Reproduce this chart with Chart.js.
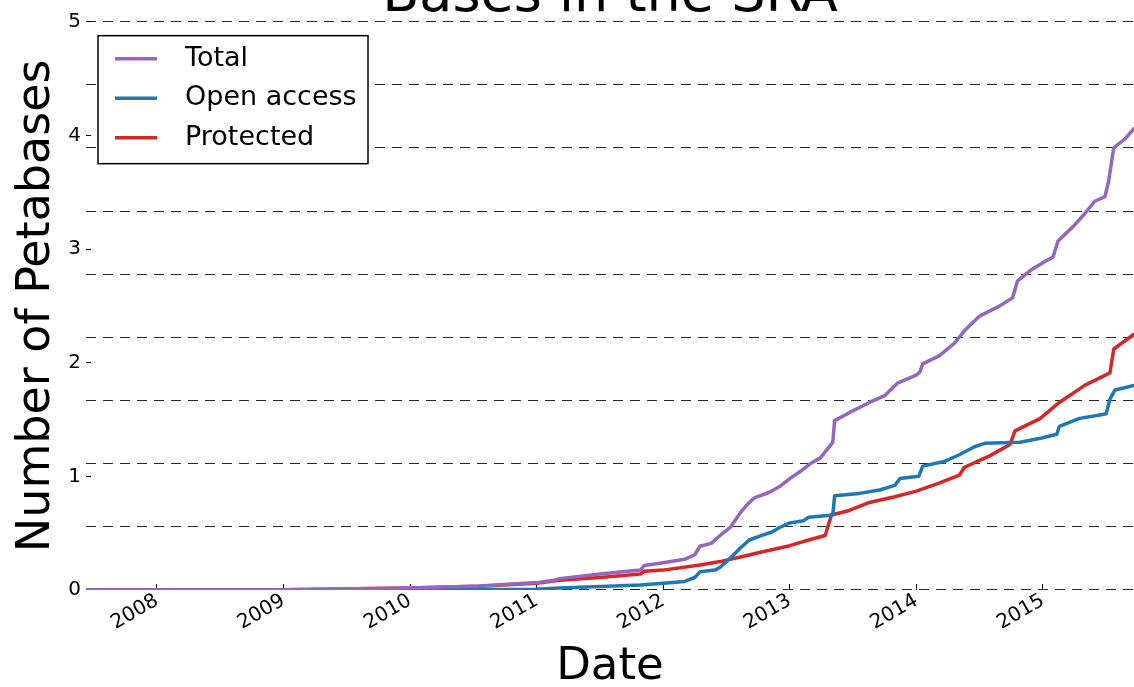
<!DOCTYPE html>
<html>
<head>
<meta charset="utf-8">
<script src="https://cdn.jsdelivr.net/npm/chart.js@4"></script>
<style>
  html, body { margin: 0; padding: 0; background: #fff; overflow: hidden; }
  #wrap { position: absolute; left: 0; top: -28px; width: 1134px; height: 715px; }
</style>
</head>
<body>
<div id="wrap"><canvas id="sra"></canvas></div>
<script>
// datos (petabases por fecha, en anos decimales)
const totalYears = [2007.44, 2009.0, 2010.0, 2010.55, 2011.0, 2011.14, 2011.18, 2011.5, 2011.82, 2011.85, 2012.0, 2012.17, 2012.25, 2012.29, 2012.38, 2012.45, 2012.53, 2012.61, 2012.68, 2012.72, 2012.84, 2012.92, 2013.0, 2013.08, 2013.16, 2013.24, 2013.32, 2013.34, 2013.355, 2013.47, 2013.63, 2013.75, 2013.85, 2014.0, 2014.03, 2014.05, 2014.18, 2014.30, 2014.38, 2014.50, 2014.66, 2014.76, 2014.80, 2014.90, 2015.0, 2015.08, 2015.12, 2015.25, 2015.33, 2015.41, 2015.49, 2015.52, 2015.56, 2015.65, 2015.72];
const totalValues = [0, 0.003, 0.018, 0.035, 0.065, 0.085, 0.10, 0.14, 0.175, 0.215, 0.24, 0.27, 0.31, 0.385, 0.41, 0.48, 0.55, 0.68, 0.77, 0.81, 0.86, 0.91, 0.98, 1.04, 1.11, 1.16, 1.27, 1.30, 1.49, 1.56, 1.65, 1.71, 1.82, 1.89, 1.92, 1.99, 2.06, 2.17, 2.28, 2.41, 2.50, 2.57, 2.72, 2.81, 2.88, 2.93, 3.07, 3.21, 3.31, 3.42, 3.46, 3.60, 3.89, 3.97, 4.06];

const openYears = [2007.44, 2010.0, 2011.0, 2011.18, 2011.82, 2012.0, 2012.17, 2012.25, 2012.29, 2012.41, 2012.45, 2012.53, 2012.61, 2012.68, 2012.78, 2012.86, 2012.92, 2013.0, 2013.11, 2013.15, 2013.34, 2013.355, 2013.55, 2013.71, 2013.83, 2013.87, 2014.02, 2014.05, 2014.22, 2014.34, 2014.46, 2014.54, 2014.82, 2015.0, 2015.11, 2015.13, 2015.29, 2015.45, 2015.50, 2015.53, 2015.57, 2015.72];
const openValues = [0, 0.002, 0.006, 0.018, 0.045, 0.06, 0.075, 0.11, 0.16, 0.175, 0.20, 0.28, 0.37, 0.44, 0.48, 0.51, 0.55, 0.59, 0.61, 0.64, 0.66, 0.83, 0.85, 0.88, 0.92, 0.98, 1.00, 1.09, 1.13, 1.19, 1.26, 1.29, 1.30, 1.34, 1.37, 1.44, 1.51, 1.54, 1.55, 1.68, 1.76, 1.80];

const protectedYears = [2007.44, 2009.0, 2010.0, 2010.55, 2011.0, 2011.18, 2011.5, 2011.82, 2011.85, 2012.0, 2012.29, 2012.45, 2012.61, 2012.76, 2013.0, 2013.15, 2013.28, 2013.33, 2013.47, 2013.63, 2013.83, 2014.0, 2014.18, 2014.34, 2014.38, 2014.58, 2014.74, 2014.78, 2014.98, 2015.13, 2015.33, 2015.53, 2015.56, 2015.72];
const protectedValues = [0, 0.003, 0.017, 0.032, 0.06, 0.085, 0.11, 0.14, 0.165, 0.175, 0.22, 0.25, 0.29, 0.33, 0.39, 0.44, 0.48, 0.66, 0.70, 0.77, 0.82, 0.87, 0.94, 1.01, 1.08, 1.18, 1.28, 1.40, 1.51, 1.65, 1.80, 1.91, 2.12, 2.25];

const xTickYears = [2008, 2009, 2010, 2011, 2012, 2013, 2014, 2015];
const xMin = 2007.44;
const xMax = 2015.72;

const toPoints = (xs, ys) => xs.map((x, i) => ({ x: x, y: ys[i] }));

Chart.defaults.font.family = "'DejaVu Sans', sans-serif";
Chart.defaults.color = '#000';

// leyenda con marco, dentro del area del grafico
const legendBox = {
  id: 'legendBox',
  afterDraw(chart) {
    const ctx = chart.ctx;
    const a = chart.chartArea;
    const left = a.left + 12, top = a.top + 14;
    ctx.save();
    ctx.fillStyle = '#fff';
    ctx.fillRect(left, top, 270, 128);
    ctx.strokeStyle = '#000';
    ctx.lineWidth = 1.5;
    ctx.strokeRect(left, top, 270, 128);
    ctx.font = "27px 'DejaVu Sans'";
    ctx.textBaseline = 'middle';
    chart.data.datasets.forEach((ds, i) => {
      const y = top + 23 + i * 39.5;
      ctx.strokeStyle = ds.borderColor;
      ctx.lineWidth = 3.5;
      ctx.beginPath();
      ctx.moveTo(left + 17, y);
      ctx.lineTo(left + 59, y);
      ctx.stroke();
      ctx.fillStyle = '#000';
      ctx.fillText(ds.label, left + 87, y);
    });
    ctx.restore();
  }
};

const grafico = new Chart(document.getElementById('sra'), {
  type: 'line',
  data: {
    datasets: [
      { label: 'Total', data: toPoints(totalYears, totalValues), borderColor: '#9467bd', backgroundColor: '#9467bd', borderWidth: 3.5 },
      { label: 'Open access', data: toPoints(openYears, openValues), borderColor: '#1f77b4', backgroundColor: '#1f77b4', borderWidth: 3.5 },
      { label: 'Protected', data: toPoints(protectedYears, protectedValues), borderColor: '#d62728', backgroundColor: '#d62728', borderWidth: 3.5 }
    ]
  },
  options: {
    responsive: true,
    maintainAspectRatio: false,
    animation: false,
    elements: {
      point: { radius: 0 },
      line: { tension: 0, borderCapStyle: 'round', borderJoinStyle: 'round' }
    },
    layout: { padding: { left: 0, right: 0, top: 0, bottom: 0 } },
    scales: {
      x: {
        type: 'linear',
        min: xMin,
        max: xMax,
        afterBuildTicks: (scale) => { scale.ticks = xTickYears.map(v => ({ value: v })); },
        afterFit: (scale) => { scale.height = 97; },
        ticks: {
          minRotation: 30,
          maxRotation: 30,
          padding: 5,
          font: { size: 20 },
          callback: (v) => String(v)
        },
        grid: { drawOnChartArea: false, tickLength: -6, color: '#000' },
        border: { display: false },
        title: { display: true, text: 'Date', font: { size: 45, lineHeight: 1 }, padding: { top: 0, bottom: -3 } }
      },
      y: {
        min: 0,
        max: 5,
        afterFit: (scale) => { scale.width = 86; },
        ticks: { stepSize: 1, padding: 10, font: { size: 20 } },
        grid: { drawOnChartArea: false, tickLength: -5, color: '#000' },
        border: { display: false },
        title: { display: true, text: 'Number of Petabases', font: { size: 46, lineHeight: 1 }, padding: { top: 14, bottom: 0 } }
      },
      grilla: {
        position: 'right',
        min: 0,
        max: 9,
        afterFit: (scale) => { scale.width = 0; },
        ticks: { display: false, stepSize: 1 },
        grid: { drawTicks: false, color: 'rgba(0,0,0,0.85)', lineWidth: 1 },
        border: { display: false, dash: [10, 7] }
      }
    },
    plugins: {
      legend: { display: false },
      tooltip: { enabled: false },
      title: {
        display: true,
        fullSize: false,
        text: 'Bases in the SRA',
        font: { size: 54, weight: 'normal', lineHeight: 0.92 },
        padding: { top: 0, bottom: 0 },
        color: '#000'
      }
    }
  },
  plugins: [legendBox]
});
</script>
</body>
</html>
